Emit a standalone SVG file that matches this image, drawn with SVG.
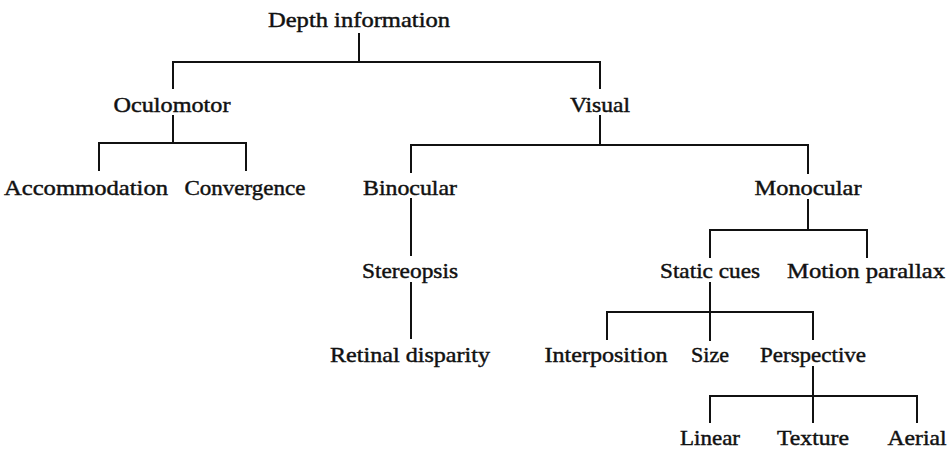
<svg xmlns="http://www.w3.org/2000/svg" width="950" height="451" viewBox="0 0 950 451">
<style>
  text { font-family: "Liberation Serif", "Times New Roman", serif; font-size: 22px; fill: #111; stroke: #111; stroke-width: 0.45; text-anchor: middle; }
  .c { stroke: #111; stroke-width: 2; fill: none; stroke-linecap: square; }
</style>
<rect width="950" height="451" fill="#fff"/>
<g id="connectors">
  <path class="c" d="M359 34 V62 M173 62 H600 M173 62 V88 M600 62 V88"/>
  <path class="c" d="M173 116 V143 M99 143 H246 M99 143 V170 M246 143 V170"/>
  <path class="c" d="M600 116 V145 M411 145 H808 M411 145 V172 M808 145 V173"/>
  <path class="c" d="M411 199 V255"/>
  <path class="c" d="M411 283 V338"/>
  <path class="c" d="M808 200 V230 M710 230 H867 M710 230 V257 M867 230 V257"/>
  <path class="c" d="M710 283 V340 M607 312 H813 M607 312 V339 M813 312 V339"/>
  <path class="c" d="M813 367 V422 M710 396 H917 M710 396 V422 M917 396 V422"/>
</g>
<g id="n-depth"><text x="359" y="27" textLength="182" lengthAdjust="spacingAndGlyphs">Depth information</text></g>
<g id="n-oculomotor"><text x="172" y="112" textLength="117" lengthAdjust="spacingAndGlyphs">Oculomotor</text></g>
<g id="n-visual"><text x="600" y="112" textLength="60" lengthAdjust="spacingAndGlyphs">Visual</text></g>
<g id="n-accommodation"><text x="86" y="195" textLength="164" lengthAdjust="spacingAndGlyphs">Accommodation</text></g>
<g id="n-convergence"><text x="245" y="195" textLength="121" lengthAdjust="spacingAndGlyphs">Convergence</text></g>
<g id="n-binocular"><text x="410" y="195" textLength="94" lengthAdjust="spacingAndGlyphs">Binocular</text></g>
<g id="n-monocular"><text x="808" y="195" textLength="107" lengthAdjust="spacingAndGlyphs">Monocular</text></g>
<g id="n-stereopsis"><text x="410" y="278" textLength="96" lengthAdjust="spacingAndGlyphs">Stereopsis</text></g>
<g id="n-static"><text x="710" y="278" textLength="100" lengthAdjust="spacingAndGlyphs">Static cues</text></g>
<g id="n-motion"><text x="866" y="278" textLength="158" lengthAdjust="spacingAndGlyphs">Motion parallax</text></g>
<g id="n-retinal"><text x="410" y="362" textLength="160" lengthAdjust="spacingAndGlyphs">Retinal disparity</text></g>
<g id="n-interposition"><text x="606" y="362" textLength="123" lengthAdjust="spacingAndGlyphs">Interposition</text></g>
<g id="n-size"><text x="710" y="362" textLength="38" lengthAdjust="spacingAndGlyphs">Size</text></g>
<g id="n-perspective"><text x="813" y="362" textLength="106" lengthAdjust="spacingAndGlyphs">Perspective</text></g>
<g id="n-linear"><text x="710" y="445" textLength="60" lengthAdjust="spacingAndGlyphs">Linear</text></g>
<g id="n-texture"><text x="813" y="445" textLength="72" lengthAdjust="spacingAndGlyphs">Texture</text></g>
<g id="n-aerial"><text x="917" y="445" textLength="59" lengthAdjust="spacingAndGlyphs">Aerial</text></g>
</svg>
